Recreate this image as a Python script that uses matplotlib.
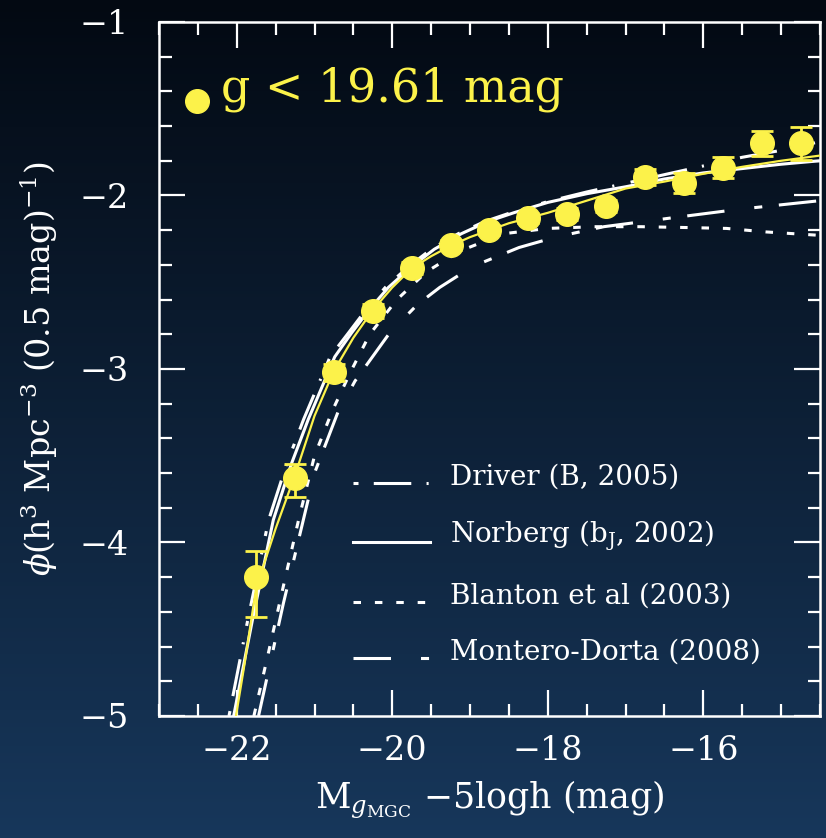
import numpy as np
import matplotlib
matplotlib.use("Agg")
import matplotlib.pyplot as plt
from matplotlib.ticker import MultipleLocator

plt.rcParams['font.family'] = ['DejaVu Serif', 'DejaVu Sans']
plt.rcParams['mathtext.fontset'] = 'dejavuserif'
plt.rcParams['lines.scale_dashes'] = False

# GAMA/MGC style g-band luminosity function
mag_pts = [-21.75, -21.25, -20.75, -20.25, -19.75, -19.25, -18.75, -18.25,
           -17.75, -17.25, -16.75, -16.25, -15.75, -15.25, -14.75]
phi_pts = [-4.20, -3.63, -3.02, -2.665, -2.42, -2.285, -2.20, -2.13,
           -2.105, -2.06, -1.893, -1.928, -1.84, -1.70, -1.70]
err_lo = [0.23, 0.11, 0.05, 0.04, 0.035, 0.03, 0.03, 0.03,
          0.035, 0.035, 0.045, 0.058, 0.06, 0.07, 0.095]
err_hi = [0.15, 0.08, 0.05, 0.04, 0.035, 0.03, 0.03, 0.03,
          0.035, 0.035, 0.045, 0.058, 0.06, 0.07, 0.095]

# yellow fit
fit_mag = [-22.01, -21.9, -21.75, -21.5, -21.25, -21.0, -20.75, -20.5, -20.25,
           -20.0, -19.75, -19.5, -19.25, -19.0, -18.75, -18.5, -18.0, -17.5,
           -17.0, -16.5, -16.0, -15.5, -15.0, -14.5]
fit_phi = [-5.0, -4.70, -4.26, -3.92, -3.61, -3.27, -3.01, -2.82, -2.66,
           -2.53, -2.42, -2.35, -2.29, -2.24, -2.20, -2.16, -2.10, -2.03,
           -1.96, -1.92, -1.875, -1.835, -1.80, -1.77]

# literature curves
driver_mag = [-22.10, -21.86, -21.59, -21.36, -21.14, -20.80, -20.56, -20.34,
              -20.09, -19.79, -19.50, -19.15, -18.81, -18.48, -18.0, -17.5,
              -17.0, -16.5, -16.0, -15.5, -15.0, -14.5]
driver_phi = [-5.0, -4.45, -3.87, -3.55, -3.29, -2.93, -2.79, -2.66,
              -2.53, -2.41, -2.31, -2.22, -2.15, -2.10, -2.035, -1.98,
              -1.93, -1.88, -1.83, -1.78, -1.74, -1.69]

norberg_mag = [-22.04, -21.80, -21.53, -21.30, -21.08, -20.74, -20.52, -20.30,
               -20.05, -19.75, -19.46, -19.11, -18.77, -18.44, -18.0, -17.5,
               -17.0, -16.5, -16.0, -15.5, -15.0, -14.5]
norberg_phi = [-5.0, -4.45, -3.87, -3.55, -3.29, -2.93, -2.79, -2.66,
               -2.53, -2.41, -2.31, -2.22, -2.15, -2.10, -2.04, -1.99,
               -1.95, -1.905, -1.87, -1.845, -1.82, -1.80]

blanton_mag = [-21.78, -21.6, -21.4, -21.2, -21.0, -20.77, -20.54, -20.29,
               -19.94, -19.56, -19.13, -18.56, -18.0, -17.4, -16.8, -16.2,
               -15.7, -15.2, -14.5]
blanton_phi = [-5.0, -4.65, -4.25, -3.86, -3.50, -3.24, -3.02, -2.80,
               -2.60, -2.44, -2.32, -2.22, -2.19, -2.18, -2.18, -2.185,
               -2.19, -2.21, -2.23]

montero_mag = [-21.72, -21.4, -21.0, -20.7, -20.48, -20.03, -19.68, -19.39,
               -18.97, -18.37, -17.9, -17.28, -16.42, -15.55, -14.5]
montero_phi = [-5.0, -4.35, -3.60, -3.25, -3.07, -2.79, -2.63, -2.53,
               -2.41, -2.30, -2.24, -2.18, -2.13, -2.08, -2.03]

labels = ["Driver (B, 2005)", r"Norberg (b$_{\rm J}$, 2002)",
          "Blanton et al (2003)", "Montero-Dorta (2008)"]

YEL = '#fcf24a'
WH = 'white'
styles = [(0, (3.6, 11, 27, 11, 1.5, 12)), '-', (0, (5.4, 10)), (0, (27, 21.6, 5.8, 12))]

fig = plt.figure(figsize=(8.26, 8.38), dpi=100)

# background gradient
bg = fig.add_axes([0, 0, 1, 1], zorder=-10)
grad = np.linspace(0, 1, 256)[:, None]
top = np.array([3, 9, 18]) / 255
bot = np.array([23, 55, 91]) / 255
img = top + (bot - top) * grad[..., None]
bg.imshow(np.repeat(img, 2, axis=1), aspect='auto', extent=[0, 1, 0, 1])
bg.axis('off')

ax = fig.add_axes([0.1925, 0.1456, 0.8002, 0.8282])
ax.set_facecolor('none')

curves = [(driver_mag, driver_phi), (norberg_mag, norberg_phi),
          (blanton_mag, blanton_phi), (montero_mag, montero_phi)]
for (m, p), ls in zip(curves, styles):
    ax.plot(m, p, color=WH, lw=2.2, linestyle=ls, zorder=2)

ax.plot(fit_mag, fit_phi, color=YEL, lw=1.6, zorder=3)
ax.errorbar(mag_pts, phi_pts, yerr=[err_lo, err_hi], fmt='o', ms=17,
            color=YEL, mec=YEL, elinewidth=2, capsize=8, capthick=2, zorder=4)

# legend
ly = [0.336, 0.251, 0.164, 0.084]
for y, ls, lab in zip(ly, styles, labels):
    ax.plot([0.293, 0.410], [y, y], transform=ax.transAxes, color=WH,
            lw=2.2, linestyle=ls, clip_on=False)
    ax.text(0.44, y + 0.008, lab, transform=ax.transAxes, color=WH,
            fontsize=20, va='center', ha='left')

ax.plot([0.0575], [0.886], 'o', ms=17, color=YEL, transform=ax.transAxes)
ax.text(0.094, 0.903, "g < 19.61 mag", transform=ax.transAxes, color=YEL,
        fontsize=33, va='center', ha='left')

ax.set_xlim(-23, -14.5)
ax.set_ylim(-5, -1)
ax.xaxis.set_major_locator(MultipleLocator(2))
ax.xaxis.set_minor_locator(MultipleLocator(0.5))
ax.yaxis.set_major_locator(MultipleLocator(1))
ax.yaxis.set_minor_locator(MultipleLocator(0.2))
ax.tick_params(which='both', direction='in', top=True, right=True,
               color=WH, width=1.6, labelcolor=WH, labelsize=24)
ax.tick_params(which='major', length=19, pad=14)
ax.tick_params(which='minor', length=9)
ax.tick_params(axis='y', pad=22)
for s in ax.spines.values():
    s.set_color(WH)
    s.set_linewidth(1.8)

ax.set_xlabel(r"M$_{g_{\rm MGC}}$ $-$5logh (mag)", color=WH, fontsize=25, labelpad=8)
ax.set_ylabel(r"$\phi$(h$^3$ Mpc$^{-3}$ (0.5 mag)$^{-1}$)", color=WH, fontsize=24, labelpad=14)

fig.savefig("out.png", dpi=100)
